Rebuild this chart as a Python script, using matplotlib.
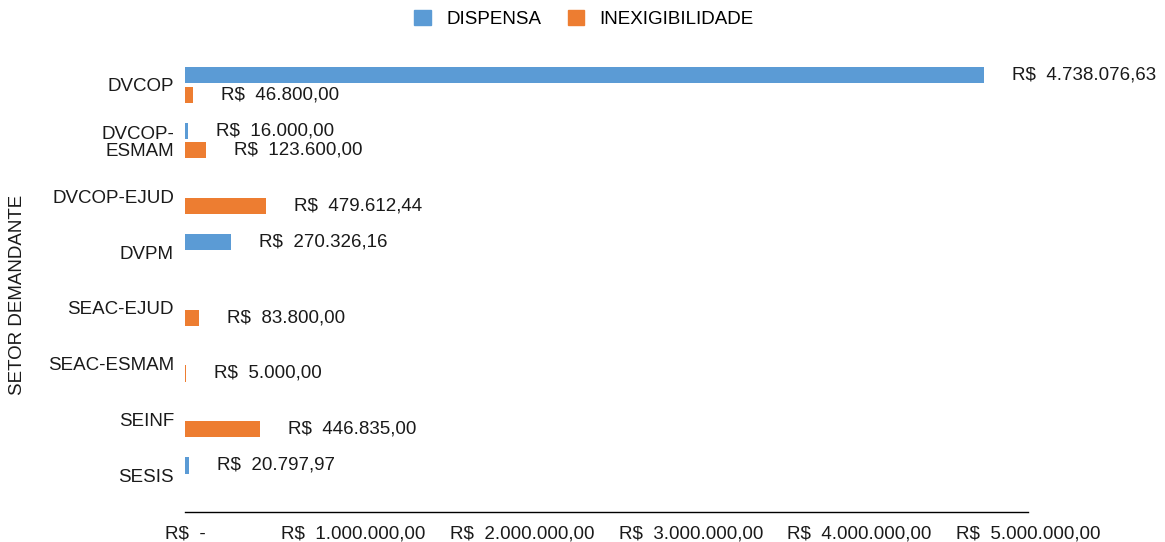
import numpy as np
import matplotlib
matplotlib.use("Agg")
import matplotlib.pyplot as plt
from matplotlib.patches import Patch

plt.rcParams["font.family"] = ["Liberation Sans", "DejaVu Sans"]

# -----------------------------------------------------------------------------
# Data
# -----------------------------------------------------------------------------
setores = ["DVCOP", "DVCOP-\nESMAM", "DVCOP-EJUD", "DVPM",
           "SEAC-EJUD", "SEAC-ESMAM", "SEINF", "SESIS"]
dispensa = [4738076.63, 16000.00, None, 270326.16, None, None, None, 20797.97]
inexig = [46800.00, 123600.00, 479612.44, None, 83800.00, 5000.00, 446835.00, None]
x_ticks = [0, 1000000, 2000000, 3000000, 4000000, 5000000]

c_disp = "#5B9BD5"
c_inex = "#ED7D31"
txt = "#1a1a1a"
fs = 13.5


def brl(v):
    if v == 0:
        return "R$  -"
    s = f"{v:,.2f}".replace(",", "X").replace(".", ",").replace("X", ".")
    return "R$  " + s


W, H = 1165, 542
fig = plt.figure(figsize=(W / 100, H / 100), dpi=100)
ax = fig.add_axes([185 / W, 30 / H, (1028 - 185) / W, (512 - 57) / H])

ypos = np.arange(len(setores))
bh = 0.29
off = 0.175

for i, (d, n) in enumerate(zip(dispensa, inexig)):
    if d is not None:
        ax.barh(i - off, d, height=bh, color=c_disp, linewidth=0)
        ax.annotate(brl(d), (d, i - off), xytext=(28, 0), textcoords="offset pixels",
                    va="center", ha="left", fontsize=fs, color=txt)
    if n is not None:
        ax.barh(i + off, n, height=bh, color=c_inex, linewidth=0)
        ax.annotate(brl(n), (n, i + off), xytext=(28, 0), textcoords="offset pixels",
                    va="center", ha="left", fontsize=fs, color=txt)

ax.set_xlim(0, 5000000)
ax.set_ylim(7.66, -0.5)
ax.set_xticks(x_ticks)
ax.set_xticklabels([brl(v) for v in x_ticks], fontsize=fs, color=txt)
ax.set_yticks(ypos)
ax.set_yticklabels(setores, fontsize=fs, color=txt, linespacing=1.05)
ax.tick_params(axis="y", length=0, pad=8)
ax.tick_params(axis="x", length=0, pad=10)

for s in ["top", "right", "left"]:
    ax.spines[s].set_visible(False)
ax.spines["bottom"].set_color("#000000")
ax.spines["bottom"].set_linewidth(1.0)

fig.text(18 / W, 1 - 295 / H, "SETOR DEMANDANTE", rotation=90, fontsize=fs,
         va="center", ha="center", color=txt)

# legend
handles = [Patch(facecolor=c_disp, edgecolor=c_disp, label="DISPENSA"),
           Patch(facecolor=c_inex, edgecolor=c_inex, label="INEXIGIBILIDADE")]
fig.legend(handles=handles, loc="center", bbox_to_anchor=(584 / W, 1 - 19 / H),
           ncol=2, frameon=False, fontsize=fs, handlelength=0.9, handleheight=0.9,
           columnspacing=1.4, handletextpad=0.8)

fig.savefig("out.png", dpi=100)
